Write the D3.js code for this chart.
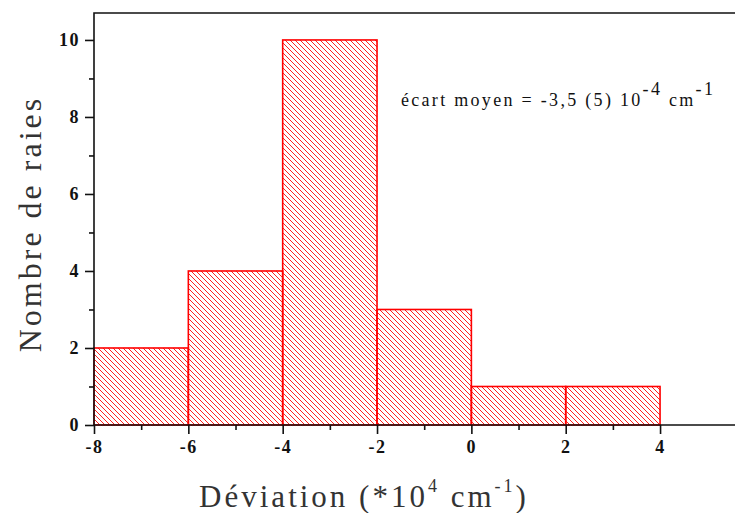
<!DOCTYPE html>
<html>
<head>
<meta charset="utf-8">
<script src="https://cdn.jsdelivr.net/npm/d3@7"></script>
<style>
  html, body { margin: 0; padding: 0; background: #fff; }
  svg { display: block; }
</style>
</head>
<body>
<svg id="chart" width="735" height="513"></svg>
<script>
// Histogram bins (lower edge, upper edge) and line counts
const binStarts = [-8, -6, -4, -2, 0, 2];
const binEnds   = [-6, -4, -2, 0, 2, 4];
const counts    = [2, 4, 10, 3, 1, 1];

const xMajorTicks = [-8, -6, -4, -2, 0, 2, 4];
const xMinorTicks = [-7, -5, -3, -1, 1, 3];
const yMajorTicks = [0, 2, 4, 6, 8, 10];
const yMinorTicks = [1, 3, 5, 7, 9];

const svg = d3.select("#chart");
const plotLeft = 94, plotTop = 13, plotBottom = 425, plotRight = 736;

const x = d3.scaleLinear().domain([-8, 5.61]).range([plotLeft, plotRight]);
const y = d3.scaleLinear().domain([0, 10.7]).range([plotBottom, plotTop]);

// Diagonal hatch fill
const defs = svg.append("defs");
const pat = defs.append("pattern")
  .attr("id", "hatch")
  .attr("patternUnits", "userSpaceOnUse")
  .attr("width", 5).attr("height", 5);
pat.append("path")
  .attr("d", "M-1,-1 L6,6 M-1,4 L1,6 M4,-1 L6,1")
  .attr("stroke", "#ff2020")
  .attr("stroke-width", 1)
  .attr("shape-rendering", "crispEdges");

const bins = counts.map((c, i) => ({ x0: binStarts[i], x1: binEnds[i], n: c }));

svg.append("g").selectAll("rect").data(bins).join("rect")
  .attr("x", d => x(d.x0))
  .attr("y", d => y(d.n))
  .attr("width", d => x(d.x1) - x(d.x0))
  .attr("height", d => y(0) - y(d.n))
  .attr("fill", "url(#hatch)")
  .attr("stroke", "#ff0000")
  .attr("stroke-width", 1.6);

const serif = "'Liberation Serif', 'Times New Roman', serif";
const plainNum = d => String(d);  // hyphen-minus, as in the labels

// Frame: left, top and bottom lines
svg.append("path")
  .attr("d", `M${plotRight},${plotTop} H${plotLeft} V${plotBottom} H${plotRight}`)
  .attr("fill", "none")
  .attr("stroke", "#111")
  .attr("stroke-width", 1.6);

// Y axis
const yAxis = svg.append("g").attr("transform", `translate(${plotLeft},0)`)
  .call(d3.axisLeft(y).tickValues(yMajorTicks).tickSize(9).tickPadding(5).tickFormat(plainNum));
yAxis.select(".domain").remove();
yAxis.selectAll("line").attr("stroke", "#111").attr("stroke-width", 1.6);
yAxis.selectAll("text").attr("font-family", serif).attr("font-weight", "bold")
  .attr("font-size", 18).attr("letter-spacing", 1.5).attr("fill", "#111");

const yMinor = svg.append("g").attr("transform", `translate(${plotLeft},0)`)
  .call(d3.axisLeft(y).tickValues(yMinorTicks).tickSize(5).tickFormat(""));
yMinor.select(".domain").remove();
yMinor.selectAll("line").attr("stroke", "#111").attr("stroke-width", 1.6);

// X axis
const xAxis = svg.append("g").attr("transform", `translate(0,${plotBottom})`)
  .call(d3.axisBottom(x).tickValues(xMajorTicks).tickSize(9).tickPadding(6).tickFormat(plainNum));
xAxis.select(".domain").remove();
xAxis.selectAll("line").attr("stroke", "#111").attr("stroke-width", 1.6);
xAxis.selectAll("text").attr("font-family", serif).attr("font-weight", "bold")
  .attr("font-size", 18).attr("letter-spacing", 1.5).attr("fill", "#111");

const xMinor = svg.append("g").attr("transform", `translate(0,${plotBottom})`)
  .call(d3.axisBottom(x).tickValues(xMinorTicks).tickSize(5).tickFormat(""));
xMinor.select(".domain").remove();
xMinor.selectAll("line").attr("stroke", "#111").attr("stroke-width", 1.6);

// Axis titles
const xt = svg.append("text")
  .attr("x", 364).attr("y", 507)
  .attr("text-anchor", "middle")
  .attr("letter-spacing", 3)
  .attr("font-family", serif).attr("font-size", 31).attr("fill", "#333");
xt.append("tspan").text("Déviation (*10");
xt.append("tspan").attr("font-size", 18).attr("dy", -15).text("4");
xt.append("tspan").attr("dy", 15).text(" cm");
xt.append("tspan").attr("font-size", 18).attr("dy", -15).text("-1");
xt.append("tspan").attr("dy", 15).text(")");

svg.append("text")
  .attr("transform", "translate(41,224) rotate(-90)")
  .attr("text-anchor", "middle")
  .attr("letter-spacing", 3)
  .attr("font-family", serif).attr("font-size", 32).attr("fill", "#333")
  .text("Nombre de raies");

// Mean deviation annotation
const note = svg.append("text")
  .attr("x", 401).attr("y", 106)
  .attr("letter-spacing", 2.3)
  .attr("font-family", serif).attr("font-size", 18).attr("fill", "#111");
note.append("tspan").text("écart moyen = -3,5 (5) 10");
note.append("tspan").attr("dy", -11).text("-4");
note.append("tspan").attr("dy", 11).text(" cm");
note.append("tspan").attr("dy", -11).text("-1");
</script>
</body>
</html>
